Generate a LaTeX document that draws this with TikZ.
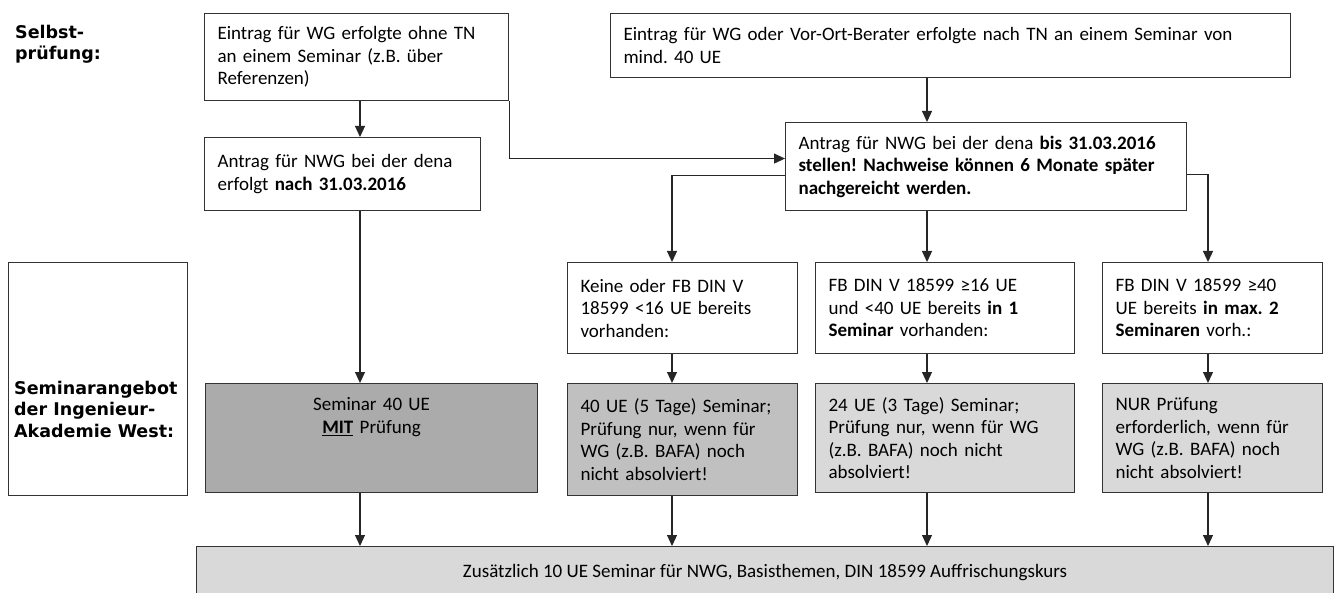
\documentclass[tikz,border=0pt]{standalone}
\usepackage{fontspec}
\setmainfont{Carlito}
\newfontfamily\labelfont{DejaVu Sans}
\usetikzlibrary{arrows.meta}

\definecolor{fillDark}{RGB}{171,171,171}
\definecolor{fillMid}{RGB}{192,192,192}
\definecolor{fillLight}{RGB}{217,217,217}

\begin{document}
\frenchspacing
\begin{tikzpicture}[
  x=1pt, y=-1pt,
  every node/.style={font=\fontsize{19}{22.5}\selectfont},
  stepbox/.style={draw=black!80, line width=1.1pt, anchor=north west,
    align=left, inner xsep=13pt, inner ysep=3pt},
  label/.style={anchor=north west, align=left, inner sep=0pt,
    font=\labelfont\fontsize{17.5}{21.5}\selectfont\bfseries},
  arr/.style={draw=black!85, line width=1.1pt,
    -{Triangle[width=10pt,length=11pt]}}
  ]
  \useasboundingbox (0,0) rectangle (1335,593);

  % columns of the arrows
  \coordinate (colA) at (360,0);
  \coordinate (colB) at (672,0);
  \coordinate (colC) at (927,0);
  \coordinate (colD) at (1208,0);

  \node[label] (lblSelbst) at (15,25) {Selbst-\\prüfung:};

  \node[stepbox, text width=278pt, minimum height=87pt] (eintragOhne) at (204,13)
    {Eintrag für WG erfolgte ohne TN\\an einem Seminar (z.B. über\\Referenzen)};
  \node[stepbox, text width=654pt, minimum height=64pt] (eintragNach) at (610,13)
    {Eintrag für WG oder Vor-Ort-Berater erfolgte nach TN an einem Seminar von\\mind. 40 UE};

  \node[stepbox, text width=250pt, minimum height=73pt] (antragNach) at (204,137)
    {Antrag für NWG bei der dena\\erfolgt \textbf{nach 31.03.2016}};
  \node[stepbox, text width=375pt, minimum height=88pt] (antragBis) at (785,122)
    {Antrag für NWG bei der dena \textbf{bis 31.03.2016}\\
     \textbf{stellen! Nachweise können 6 Monate später}\\
     \textbf{nachgereicht werden.}};

  \node[stepbox, text width=204pt, minimum height=91pt] (keineFB) at (567,262)
    {Keine oder FB DIN V\\18599 <16 UE bereits\\vorhanden:};
  \node[stepbox, text width=233pt, minimum height=91pt] (fbSechzehn) at (815,262)
    {FB DIN V 18599 ≥16 UE\\und <40 UE bereits \textbf{in 1}\\\textbf{Seminar} vorhanden:};
  \node[stepbox, text width=194pt, minimum height=91pt] (fbVierzig) at (1102,262)
    {FB DIN V 18599 ≥40\\UE bereits \textbf{in max. 2}\\\textbf{Seminaren} vorh.:};

  \node[stepbox, minimum width=179pt, minimum height=233pt] (angebotBox) at (8,262) {};
  \node[label] (lblAngebot) at (14,381) {Seminarangebot\\der Ingenieur-\\Akademie West:};

  \node[stepbox, fill=fillDark, align=center, text width=306pt, minimum height=109pt] (seminarMit) at (205,383)
    {Seminar 40 UE\\\underline{\textbf{MIT}} Prüfung\\~\\~};
  \node[stepbox, fill=fillMid, text width=204pt, minimum height=112pt] (seminarFuenf) at (567,383)
    {40 UE (5 Tage) Seminar;\\Prüfung nur, wenn für\\WG (z.B. BAFA) noch\\nicht absolviert!};
  \node[stepbox, fill=fillLight, text width=233pt, minimum height=109pt] (seminarDrei) at (815,383)
    {24 UE (3 Tage) Seminar;\\Prüfung nur, wenn für WG\\(z.B. BAFA) noch nicht\\absolviert!};
  \node[stepbox, fill=fillLight, text width=194pt, minimum height=109pt] (nurPruefung) at (1102,383)
    {NUR Prüfung\\erforderlich, wenn für\\WG (z.B. BAFA) noch\\nicht absolviert!};

  \node[stepbox, fill=fillLight, align=center, minimum width=1137pt, minimum height=52pt] (zusatz) at (196,546)
    {Zusätzlich 10 UE Seminar für NWG, Basisthemen, DIN 18599 Auffrischungskurs};

  \draw[arr] (eintragOhne.south -| colA) -- (antragNach.north -| colA);
  \draw[arr] (eintragOhne.south east) |- ([yshift=8pt]antragBis.west);
  \draw[arr] (eintragNach.south -| colC) -- (antragBis.north -| colC);

  \draw[arr] ([yshift=-9pt]antragBis.west) -| (keineFB.north -| colB);
  \draw[arr] (antragBis.south -| colC) -- (fbSechzehn.north -| colC);
  \draw[arr] ([yshift=-8pt]antragBis.east) -| (fbVierzig.north -| colD);

  \draw[arr] (antragNach.south -| colA) -- (seminarMit.north -| colA);
  \draw[arr] (keineFB.south -| colB) -- (seminarFuenf.north -| colB);
  \draw[arr] (fbSechzehn.south -| colC) -- (seminarDrei.north -| colC);
  \draw[arr] (fbVierzig.south -| colD) -- (nurPruefung.north -| colD);

  \draw[arr] (seminarMit.south -| colA) -- (zusatz.north -| colA);
  \draw[arr] (seminarFuenf.south -| colB) -- (zusatz.north -| colB);
  \draw[arr] (seminarDrei.south -| colC) -- (zusatz.north -| colC);
  \draw[arr] (nurPruefung.south -| colD) -- (zusatz.north -| colD);

\end{tikzpicture}
\end{document}
